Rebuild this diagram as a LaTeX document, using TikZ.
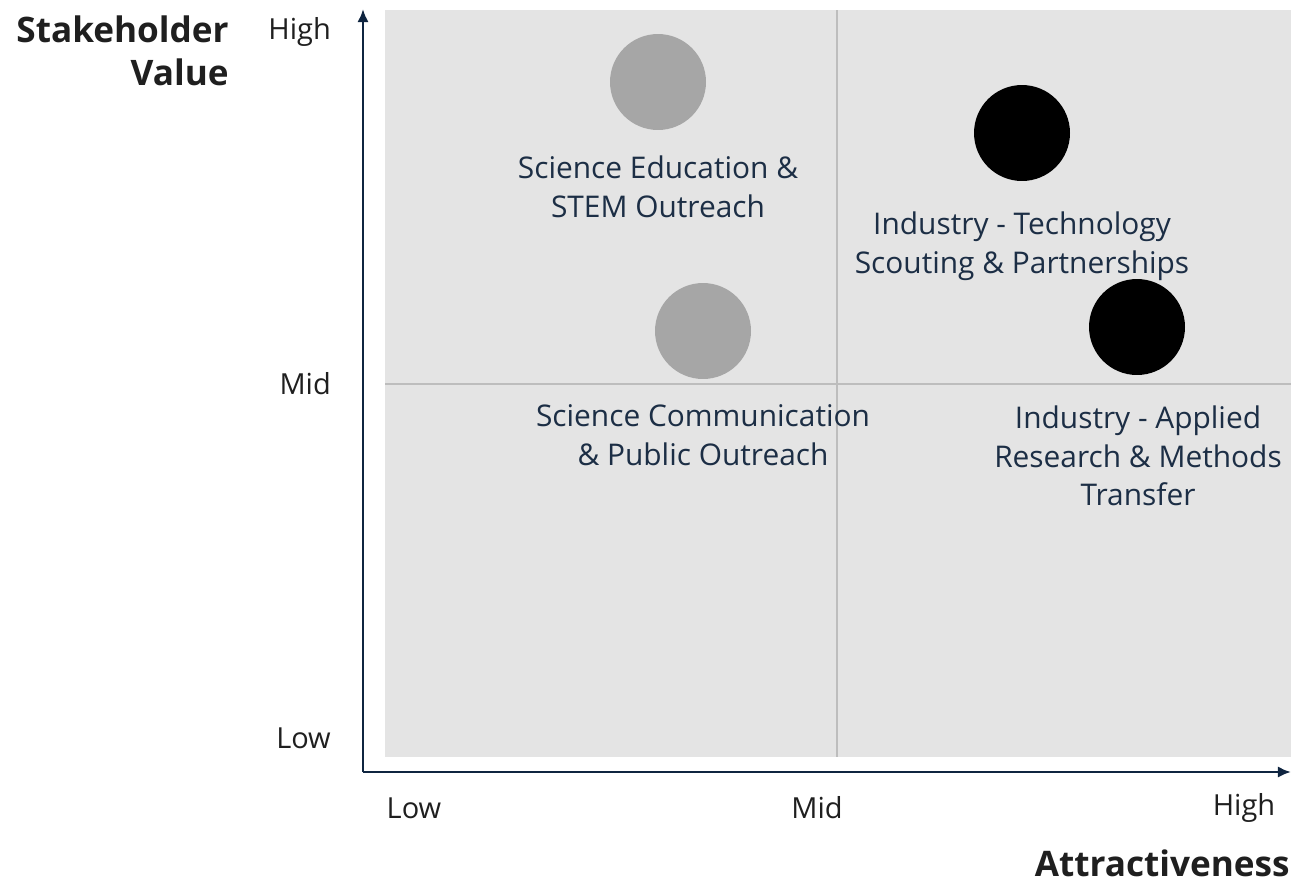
\documentclass[tikz,border=0pt]{standalone}
\usepackage{fontspec}
\setmainfont{Open Sans}
\usetikzlibrary{arrows.meta}

\definecolor{axisnavy}{HTML}{0F2540}
\definecolor{labelnavy}{HTML}{1C2E45}
\definecolor{tickgray}{HTML}{1F1F1F}
\definecolor{panelgray}{HTML}{E4E4E4}
\definecolor{splitgray}{HTML}{BDBDBD}
\definecolor{dotgray}{HTML}{A6A6A6}

\tikzset{
  axisline/.style={line width=1.6pt, color=axisnavy, -{Latex[length=7.5pt,width=6.5pt]}},
  splitline/.style={line width=0.9pt, color=splitgray},
  bubble/.style={circle, minimum size=1.92cm, inner sep=0pt},
  itemtext/.style={align=center, text=labelnavy, font=\fontsize{17}{22}\selectfont},
  ticktext/.style={text=tickgray, font=\fontsize{16.5}{22}\selectfont},
  titletext/.style={align=right, text=tickgray, font=\fontsize{20}{25}\selectfont\bfseries},
}

\begin{document}
\begin{tikzpicture}[x=0.02cm, y=-0.02cm]
  \useasboundingbox (0,0) rectangle (1291,883);

  %%%%% panel and quadrant split %%%%%
  \fill[panelgray] (385,10) rectangle (1291,757);
  \coordinate (splitTop) at (837,10);
  \coordinate (splitBot) at (837,757);
  \coordinate (splitLeft) at (385,384);
  \coordinate (splitRight) at (1291,384);
  \draw[splitline] (splitTop) -- (splitBot);
  \draw[splitline] (splitLeft) -- (splitRight);

  %%%%% axes %%%%%
  \coordinate (origin) at (363,772);
  \coordinate (yEnd) at (363,9);
  \coordinate (xEnd) at (1291,772);
  \draw[axisline] (origin) -- (yEnd);
  \draw[axisline] (origin) -- (xEnd);

  % ticks on the value axis
  \node[ticktext, anchor=east] (yHigh) at (337,32) {High};
  \node[ticktext, anchor=east] (yMid) at (337,384) {Mid};
  \node[ticktext, anchor=east] (yLow) at (337,738) {Low};
  % ticks on the attractiveness axis
  \node[ticktext] (xLow) at (414,808) {Low};
  \node[ticktext] (xMid) at (817,808) {Mid};
  \node[ticktext] (xHigh) at (1244,808) {High};

  \node[titletext, anchor=north east, inner sep=0pt] (yTitle) at (229,15) {Stakeholder\\Value};
  \node[titletext, anchor=east, inner sep=0pt] (xTitle) at (1290,863) {Attractiveness};

  %%%%% bubbles %%%%%
  \node[bubble, fill=dotgray] (eduDot) at (658,82) {};
  \node[bubble, fill=dotgray] (commDot) at (703,331) {};
  \node[bubble, fill=black] (scoutDot) at (1022,133) {};
  \node[bubble, fill=black] (appliedDot) at (1137,327) {};

  \node[itemtext] (eduText) at (658,187) {Science Education \&\\STEM Outreach};
  \node[itemtext] (commText) at (703,435) {Science Communication\\\& Public Outreach};
  \node[itemtext] (scoutText) at (1022,246) {Industry - Technology\\Scouting \& Partnerships};
  \node[itemtext] (appliedText) at (1138,456) {Industry - Applied\\Research \& Methods\\Transfer};
\end{tikzpicture}
\end{document}
